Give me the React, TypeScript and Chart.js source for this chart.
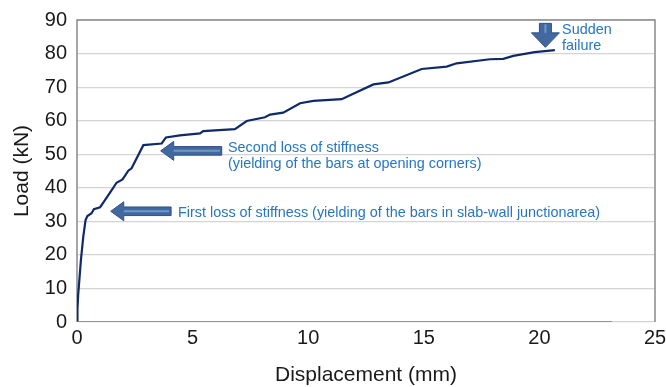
import React, { useEffect, useRef } from "react";
import { Chart, registerables } from "chart.js";

Chart.register(...registerables);

const displacement = [0, 0.02, 0.05, 0.09, 0.17, 0.27, 0.37, 0.45, 0.63, 0.73, 1.0, 1.21, 1.5, 1.71, 1.97, 2.22, 2.36, 2.87, 3.66, 3.85, 4.45, 5.32, 5.46, 6.83, 7.34, 8.13, 8.35, 8.92, 9.65, 10.22, 11.45, 11.81, 12.82, 13.47, 14.91, 15.99, 16.42, 17.86, 18.44, 18.87, 19.8, 20.67];
const load = [0, 4, 8, 11.5, 18.5, 25.4, 30.4, 31.6, 32.4, 33.6, 34.2, 36.3, 39.3, 41.5, 42.5, 45.1, 45.8, 52.7, 53.2, 55.0, 55.6, 56.2, 56.9, 57.5, 59.9, 61.0, 61.8, 62.4, 65.2, 65.9, 66.4, 67.6, 70.8, 71.4, 75.4, 76.1, 77.1, 78.3, 78.4, 79.3, 80.4, 81.0];
const baseX = [0, 23.14];
const baseY = [0, 0];

const xTicks = [0, 5, 10, 15, 20, 25];
const yTicks = [0, 10, 20, 30, 40, 50, 60, 70, 80, 90];

const xTitle = "Displacement (mm)";
const yTitle = "Load (kN)";

// annotations (data units)
const leftArrows = [
  { tipX: 1.46, tailX: 4.07, y: 33.0 },
  { tipX: 3.62, tailX: 6.26, y: 51.0 },
];
const downArrow = { x: 20.26, topY: 89.0, tipY: 81.85 };
const notes = [
  { x: 6.53, y: 51.85, text: "Second loss of stiffness" },
  { x: 6.53, y: 47.1, text: "(yielding of the bars at opening corners)" },
  { x: 4.37, y: 32.5, text: "First loss of stiffness (yielding of the bars in slab-wall junctionarea)" },
  { x: 20.98, y: 87.0, text: "Sudden" },
  { x: 20.98, y: 82.2, text: "failure" },
];

const FONT = "'Liberation Sans', Arial, sans-serif";

const annotationPlugin = {
  id: "annot",
  beforeDatasetsDraw(chart: any) {
    const { ctx, chartArea: a } = chart;
    ctx.save();
    ctx.strokeStyle = "#898989";
    ctx.lineWidth = 1.5;
    ctx.beginPath();
    ctx.moveTo(a.left, a.bottom);
    ctx.lineTo(a.left, a.top);
    ctx.lineTo(a.right, a.top);
    ctx.lineTo(a.right, a.bottom);
    ctx.stroke();
    ctx.restore();
  },
  afterDatasetsDraw(chart: any) {
    const { ctx } = chart;
    const xs = chart.scales.x;
    const ys = chart.scales.y;
    ctx.save();
    const fill = "#41699f";
    const edge = "#2f5287";
    const hi = "#6f98cc";
    for (const ar of leftArrows) {
      const tx = xs.getPixelForValue(ar.tipX);
      const ex = xs.getPixelForValue(ar.tailX);
      const cy = ys.getPixelForValue(ar.y);
      const hl = 13, hh = 9.5, sh = 4.3;
      ctx.beginPath();
      ctx.moveTo(tx, cy);
      ctx.lineTo(tx + hl, cy - hh);
      ctx.lineTo(tx + hl, cy - sh);
      ctx.lineTo(ex, cy - sh);
      ctx.lineTo(ex, cy + sh);
      ctx.lineTo(tx + hl, cy + sh);
      ctx.lineTo(tx + hl, cy + hh);
      ctx.closePath();
      ctx.fillStyle = fill;
      ctx.fill();
      ctx.strokeStyle = edge;
      ctx.lineWidth = 1;
      ctx.stroke();
      ctx.beginPath();
      ctx.moveTo(tx + hl, cy);
      ctx.lineTo(ex - 2, cy);
      ctx.strokeStyle = hi;
      ctx.lineWidth = 2;
      ctx.stroke();
    }
    {
      const cx = xs.getPixelForValue(downArrow.x);
      const top = ys.getPixelForValue(downArrow.topY);
      const tip = ys.getPixelForValue(downArrow.tipY);
      const hl = 14.5, hw = 14, sw = 6;
      ctx.beginPath();
      ctx.moveTo(cx - sw, top);
      ctx.lineTo(cx + sw, top);
      ctx.lineTo(cx + sw, tip - hl);
      ctx.lineTo(cx + hw, tip - hl);
      ctx.lineTo(cx, tip);
      ctx.lineTo(cx - hw, tip - hl);
      ctx.lineTo(cx - sw, tip - hl);
      ctx.closePath();
      ctx.fillStyle = fill;
      ctx.fill();
      ctx.strokeStyle = edge;
      ctx.lineWidth = 1;
      ctx.stroke();
      ctx.beginPath();
      ctx.moveTo(cx, top + 1);
      ctx.lineTo(cx, tip - hl);
      ctx.strokeStyle = hi;
      ctx.lineWidth = 2;
      ctx.stroke();
    }
    ctx.fillStyle = "#2676c4";
    ctx.font = `14.4px ${FONT}`;
    ctx.textAlign = "left";
    ctx.textBaseline = "middle";
    for (const n of notes) {
      ctx.fillText(n.text, xs.getPixelForValue(n.x), ys.getPixelForValue(n.y));
    }
    ctx.restore();
  },
};

export default function App() {
  const ref = useRef<HTMLCanvasElement>(null);
  useEffect(() => {
    document.body.style.margin = "0";
    const chart = new Chart(ref.current as HTMLCanvasElement, {
      type: "scatter",
      data: {
        datasets: [
          {
            data: baseX.map((x, i) => ({ x, y: baseY[i] })),
            showLine: true,
            borderColor: "#7f7f7f",
            borderWidth: 1.5,
            pointRadius: 0,
          },
          {
            data: displacement.map((x, i) => ({ x, y: load[i] })),
            showLine: true,
            borderColor: "#0f2a6a",
            borderWidth: 2.2,
            pointRadius: 0,
            tension: 0,
          },
        ],
      },
      options: {
        animation: false,
        responsive: false,
        layout: { padding: { top: 20, right: 11, left: 0, bottom: 0 } },
        plugins: { legend: { display: false }, tooltip: { enabled: false } },
        scales: {
          x: {
            type: "linear",
            min: 0,
            max: 25,
            afterBuildTicks: (s: any) => { s.ticks = xTicks.map((v) => ({ value: v })); },
            afterFit: (s: any) => { s.height = 65; s.paddingRight = 0; s.paddingLeft = 0; },
            ticks: { color: "#1a1a1a", font: { size: 20, family: FONT }, padding: 4, maxRotation: 0 },
            grid: { display: false, drawTicks: false },
            border: { display: false },
            title: { display: true, text: xTitle, color: "#1a1a1a", font: { size: 21, family: FONT }, padding: { top: 0, bottom: -1 } },
          },
          y: {
            type: "linear",
            min: 0,
            max: 90,
            afterBuildTicks: (s: any) => { s.ticks = yTicks.map((v) => ({ value: v })); },
            afterFit: (s: any) => { s.width = 77; s.paddingTop = 0; s.paddingBottom = 0; },
            ticks: { color: "#1a1a1a", font: { size: 20, family: FONT }, padding: 10 },
            grid: { color: "#d4d4d4", lineWidth: 1.2, drawTicks: false },
            border: { display: false },
            title: { display: true, text: yTitle, color: "#1a1a1a", font: { size: 21, family: FONT }, padding: { top: 10, bottom: 0 } },
          },
        },
      },
      plugins: [annotationPlugin],
    });
    return () => chart.destroy();
  }, []);
  return (
    <div style={{ position: "absolute", left: 0, top: 0, width: 666, height: 387, background: "#fff" }}>
      <canvas ref={ref} width={666} height={387} />
    </div>
  );
}
